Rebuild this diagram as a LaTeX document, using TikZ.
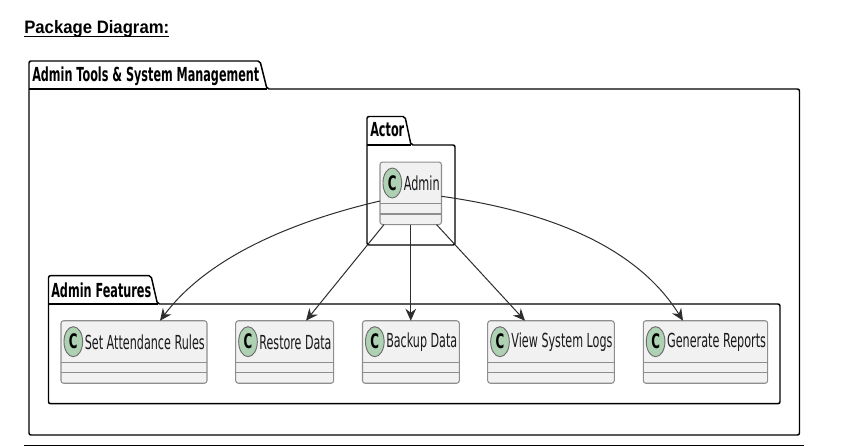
\documentclass[tikz,border=0pt]{standalone}
\usepackage{fontspec}
\setmainfont{DejaVu Sans}
\newfontfamily\titlefont{Liberation Sans}
\usetikzlibrary{calc,arrows.meta,shapes.geometric}
\definecolor{classfill}{HTML}{F1F1F1}
\definecolor{classline}{HTML}{8E8E8E}
\definecolor{spotfill}{HTML}{ADD1B2}
\definecolor{linkline}{HTML}{2E2E2E}
\newcommand{\fitw}[2]{\resizebox{\dimexpr #1pt*3/4\relax}{\height}{#2}}
\tikzset{
  x=0.75pt,y=-0.75pt,
  pkg/.style={draw=black,line width=1.1pt,fill=white,rounded corners=1.5pt},
  pkgsep/.style={draw=black,line width=1.1pt},
  pkglabel/.style={inner sep=0pt,anchor=west,font=\fontsize{14.5}{16}\selectfont\bfseries},
  classbox/.style={draw=classline,line width=0.8pt,fill=classfill,rounded corners=2pt,inner sep=0pt,outer sep=0pt,minimum height=46.9pt},
  classrule/.style={draw=classline,line width=0.8pt},
  spot/.style={draw=linkline!70,line width=0.7pt,fill=spotfill,ellipse,inner sep=0pt,minimum width=14pt,minimum height=22.5pt},
  spotc/.style={inner sep=0pt,font=\fontsize{15}{16}\selectfont\bfseries},
  classlabel/.style={inner sep=0pt,anchor=west,font=\fontsize{14.5}{16}\selectfont,text=black!90},
  rel/.style={draw=linkline,line width=0.75pt,-{Stealth[length=9pt,width=8pt,inset=3pt]}},
}
\begin{document}
\begin{tikzpicture}
\useasboundingbox (0,0) rectangle (851,446);
% title
\node[inner sep=0pt,anchor=base west] (title) at (24,33.5) {\titlefont\bfseries\fontsize{13.5}{15}\selectfont\fitw{145}{Package Diagram:}};
\draw[line width=0.9pt] (24,36.8) -- (169,36.8);
\draw[line width=0.9pt] (24,445.3) -- (804,445.3);
% outer package
\path[pkg] (29,89) -- (29,61) -- (260,61) -- (267,89) -- (799.5,89) -- (799.5,435) -- (29,435) -- cycle;
\draw[pkgsep] (29,89) -- (267,89);
\node[pkglabel] (outerlabel) at (32,75.8) {\fitw{227}{Admin Tools \& System Management}};
% actor package
\path[pkg] (367,145) -- (367,116.5) -- (405,116.5) -- (411,145) -- (455,145) -- (455,245) -- (367,245) -- cycle;
\draw[pkgsep] (367,145) -- (411,145);
\node[pkglabel] (actorlabel) at (370,130) {\fitw{34}{Actor}};
% features package
\path[pkg] (48.5,304) -- (48.5,275.7) -- (151,275.7) -- (157.5,304) -- (780,304) -- (780,403.7) -- (48.5,403.7) -- cycle;
\draw[pkgsep] (48.5,304) -- (157.5,304);
\node[pkglabel] (featlabel) at (51,290) {\fitw{100}{Admin Features}};
% classes
\newcommand{\classitem}[6]{% name, left, right, top, label, label width
  \pgfmathsetmacro{\cx}{(#2+#3)/2}
  \pgfmathsetmacro{\cw}{(#3-#2)*0.75}
  \node[classbox,minimum width=\cw pt] (#1) at (\cx,#4+31.3) {};
  \draw[classrule] (#2,#4+41.6) -- (#3,#4+41.6);
  \draw[classrule] (#2,#4+52) -- (#3,#4+52);
  \node[spot] (#1spot) at (#2+12.3,#4+21) {};
  \node[spotc] (#1c) at (#1spot) {\resizebox{6.5pt}{\height}{C}};
  \node[classlabel] (#1text) at (#2+23.5,#4+21.6) {\fitw{#6}{#5}};
}
\classitem{admin}{380}{441.5}{162}{Admin}{36}
\classitem{setrules}{61}{207}{320.7}{Set Attendance Rules}{120}
\classitem{restore}{235.7}{333.7}{320.7}{Restore Data}{72}
\classitem{backup}{362.5}{459.3}{320.7}{Backup Data}{71}
\classitem{viewlogs}{487.7}{614.3}{320.7}{View System Logs}{101}
\classitem{reports}{643.3}{767.7}{320.7}{Generate Reports}{99}
% connectors
\draw[rel] ($(admin.west)+(0,7.7)$) .. controls (290,222) and (207,258) .. ($(setrules.north west)+(99,0)$);
\draw[rel] ($(admin.south west)+(4,0)$) -- ($(restore.north west)+(70.3,0)$);
\draw[rel] (admin.south) -- (backup.north west -| admin.south);
\draw[rel] ($(admin.south east)+(-5,0)$) -- ($(viewlogs.north west)+(37.3,0)$);
\draw[rel] ($(admin.east)+(0,3)$) .. controls (560,213) and (640,252) .. ($(reports.north west)+(39.7,0)$);
\end{tikzpicture}
\end{document}
